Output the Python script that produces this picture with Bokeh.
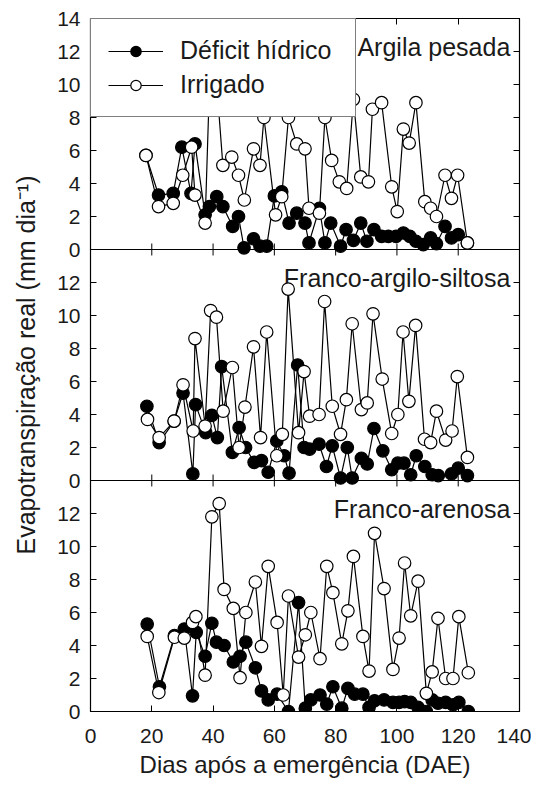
from bokeh.plotting import figure
from bokeh.models import Range1d, LinearAxis, FixedTicker, Span, Label, Legend, LegendItem
from bokeh.embed import file_html
from bokeh.resources import INLINE

FONT = "Liberation Sans"
INK = "#1a1a1a"

# ---------------- data ----------------
# Argila pesada
ap_def_x = [18.1, 22.2, 27.0, 29.8, 32.8, 34.1, 37.4, 38.8, 41.2, 43.2, 46.4, 48.3, 50.1, 53.2, 55.3,
            57.5, 60.0, 62.4, 64.8, 67.3, 70.0, 71.3, 74.7, 76.5, 78.4, 81.6, 83.4, 85.8, 88.2, 90.2,
            92.5, 95.0, 97.2, 99.7, 102.1, 104.2, 106.2, 108.6, 111.0, 112.9, 115.7, 117.8, 120.0, 123.0]
ap_def_y = [5.7, 3.3, 3.4, 6.2, 3.4, 6.4, 2.1, 2.6, 3.2, 2.6, 1.4, 2.0, 0.1, 0.65, 0.2,
            0.2, 3.25, 3.5, 1.6, 2.2, 1.6, 0.4, 2.5, 0.4, 1.6, 0.2, 1.2, 0.55, 1.6, 0.5,
            1.2, 0.8, 0.8, 0.8, 1.0, 0.8, 0.5, 0.3, 0.7, 0.35, 1.4, 0.7, 0.9, 0.4]
ap_irr_x = [18.1, 22.2, 27.0, 30.1, 33.0, 34.1, 37.4, 39.0, 41.0, 43.2, 46.1, 48.3, 50.2, 53.2, 55.3,
            56.6, 60.4, 62.4, 64.6, 67.3, 70.0, 71.3, 74.7, 76.5, 78.7, 81.2, 83.6, 85.8, 88.2, 90.7,
            92.0, 95.0, 98.3, 100.1, 102.1, 104.0, 106.2, 109.1, 111.0, 112.9, 115.7, 117.8, 119.8, 123.0]
ap_irr_y = [5.7, 2.6, 2.8, 4.5, 6.2, 3.3, 1.6, 11.0, 10.5, 5.1, 5.6, 4.5, 3.0, 6.1, 5.1,
            8.0, 2.1, 3.2, 8.0, 6.4, 6.1, 2.5, 2.2, 8.0, 5.4, 4.1, 3.7, 9.1, 4.4, 4.1,
            8.5, 8.9, 3.8, 2.3, 7.3, 6.45, 8.9, 2.9, 2.5, 2.0, 4.5, 3.1, 4.5, 0.4]

# Franco-argilo-siltosa
fas_def_x = [18.4, 22.4, 27.3, 30.2, 33.4, 34.3, 37.6, 39.6, 41.4, 42.8, 46.3, 48.5, 50.6, 53.4, 55.8,
             58.0, 60.8, 63.2, 64.8, 67.6, 69.7, 71.5, 74.6, 77.0, 78.9, 81.6, 83.8, 85.4, 88.4, 90.3,
             92.5, 95.4, 98.3, 100.3, 102.3, 104.5, 106.3, 109.1, 111.5, 113.5, 117.8, 120.0, 123.0]
fas_def_y = [4.5, 2.3, 3.6, 5.3, 0.4, 4.6, 2.9, 3.95, 2.6, 6.9, 1.7, 3.2, 2.0, 1.1, 1.2,
             0.5, 2.4, 1.5, 0.45, 7.0, 2.0, 1.9, 2.2, 0.85, 2.1, 0.15, 2.0, 0.15, 1.35, 1.0,
             3.15, 1.8, 0.65, 1.05, 1.05, 0.35, 1.5, 0.85, 0.35, 0.3, 0.4, 0.75, 0.3]
fas_irr_x = [18.6, 22.4, 27.3, 30.2, 33.5, 34.1, 37.4, 39.2, 41.1, 43.3, 46.3, 48.5, 50.4, 53.2, 55.5,
             57.5, 60.8, 62.6, 64.5, 67.9, 69.7, 71.5, 74.6, 76.4, 78.9, 81.6, 83.5, 85.4, 88.4, 90.3,
             92.2, 95.2, 98.3, 100.3, 102.0, 103.9, 106.1, 109.0, 111.0, 112.9, 115.9, 118.0, 119.7, 123.0]
fas_irr_y = [3.7, 2.6, 3.6, 5.8, 3.0, 8.6, 3.3, 10.3, 9.9, 4.2, 6.85, 2.0, 4.45, 8.1, 2.6,
             9.0, 1.5, 2.8, 11.6, 2.9, 6.6, 3.9, 4.0, 10.85, 4.5, 2.8, 4.9, 9.5, 4.3, 4.7,
             10.1, 6.15, 2.85, 4.0, 9.0, 4.8, 9.4, 2.5, 2.3, 4.2, 2.45, 3.0, 6.3, 1.4]

# Franco-arenosa
fa_def_x = [18.5, 22.5, 27.4, 30.6, 33.3, 34.5, 37.4, 39.6, 41.1, 43.6, 46.6, 48.8, 50.7, 53.8, 55.8,
            58.0, 60.9, 64.6, 67.9, 70.1, 71.9, 74.9, 77.1, 79.1, 82.0, 84.0, 86.2, 88.9, 90.9, 92.7,
            95.8, 98.7, 100.7, 102.5, 104.5, 106.9, 109.6, 111.5, 113.4, 115.9, 118.3, 120.2, 123.3]
fa_def_y = [5.3, 1.5, 4.6, 5.0, 0.95, 4.8, 3.35, 5.35, 4.2, 4.0, 3.0, 3.35, 4.2, 2.65, 1.25,
            0.7, 1.05, 0.0, 6.6, 0.2, 0.7, 1.0, 0.45, 1.5, 0.2, 1.4, 1.05, 1.05, 0.25, 0.65,
            0.7, 0.55, 0.55, 0.6, 0.55, 0.25, 0.0, 0.7, 0.5, 0.55, 0.4, 0.55, 0.0]
fa_irr_x = [18.5, 22.3, 27.4, 30.6, 33.3, 34.4, 37.4, 39.6, 42.0, 43.6, 46.6, 48.8, 50.7, 53.8, 55.8,
            58.0, 60.9, 62.9, 64.6, 67.9, 70.1, 71.9, 74.9, 77.1, 79.1, 82.0, 84.0, 85.8, 88.9, 90.9,
            92.7, 95.8, 98.7, 100.7, 102.5, 104.5, 106.9, 109.6, 111.5, 113.4, 115.9, 118.3, 120.2, 123.3]
fa_irr_y = [4.55, 1.15, 4.5, 4.45, 5.4, 5.75, 2.2, 11.8, 12.6, 7.4, 6.25, 2.05, 6.0, 7.85, 3.95,
            8.8, 5.4, 1.0, 7.0, 3.3, 4.65, 6.0, 3.2, 8.8, 7.2, 4.1, 6.1, 9.4, 4.55, 2.45,
            10.8, 7.45, 2.55, 4.45, 9.0, 5.8, 7.9, 1.1, 2.4, 5.65, 2.0, 2.0, 5.75, 2.35]

panel_titles = ["Argila pesada", "Franco-argilo-siltosa", "Franco-arenosa"]
series_names = ["Déficit hídrico", "Irrigado"]
x_ticks = [0, 20, 40, 60, 80, 100, 120, 140]
x_tick_labels = ["0", "20", "40", "60", "80", "100", "120", "140"]
y_ticks_top = [0, 2, 4, 6, 8, 10, 12, 14]
y_ticks_lower = [0, 2, 4, 6, 8, 10, 12]
x_title = "Dias após a emergência (DAE)"
y_title = "Evapotranspiração real (mm dia⁻¹)"

# ---------------- layout ----------------
SPAN = 14          # each panel: 0..14
NP = 3
FRAME_W, FRAME_H = 429, 694
BL, BR, BT, BB = 90, 12, 18, 68
TICK = 6

p = figure(width=BL + FRAME_W + BR, height=BT + FRAME_H + BB,
           x_range=Range1d(0, 140), y_range=Range1d(0, SPAN * NP),
           output_backend="svg", toolbar_location=None,
           x_axis_location=None, y_axis_location=None,
           min_border_left=BL, min_border_right=BR, min_border_top=BT, min_border_bottom=BB)
p.xgrid.grid_line_color = None
p.ygrid.grid_line_color = None
p.outline_line_color = "black"
p.outline_line_width = 1.2
p.background_fill_color = "white"
p.border_fill_color = "white"

# panel ranges: top, middle use extra ranges; bottom uses default
p.extra_y_ranges = {
    "top": Range1d(-2 * SPAN, SPAN),
    "mid": Range1d(-SPAN, 2 * SPAN),
}
range_names = ["top", "mid", "default"]

# stacked y ticks on the default range
offsets = [2 * SPAN, SPAN, 0]
tick_sets = [y_ticks_top, y_ticks_lower, y_ticks_lower]
stack_ticks, stack_labels = [], {}
for off, ts in zip(offsets, tick_sets):
    for t in ts:
        pos = off + t
        if pos not in stack_labels:
            stack_ticks.append(pos)
        stack_labels[pos] = str(t)


def style_axis(ax):
    ax.major_tick_in = TICK
    ax.major_tick_out = 0
    ax.minor_tick_line_color = None
    ax.axis_line_color = "black"
    ax.major_tick_line_color = "black"
    ax.major_label_text_font = FONT
    ax.major_label_text_color = INK
    ax.axis_label_text_font = FONT
    ax.axis_label_text_color = INK
    ax.axis_label_text_font_style = "normal"


def blank_axis(ax):
    style_axis(ax)
    ax.major_label_text_font_size = "0px"
    ax.major_label_standoff = 0


yl = LinearAxis(ticker=FixedTicker(ticks=sorted(stack_ticks)),
                major_label_overrides={k: v for k, v in stack_labels.items()})
style_axis(yl)
yl.major_label_text_font_size = "21px"
yl.major_label_standoff = 10
yl.axis_label = y_title
yl.axis_label_text_font_size = "25px"
yl.axis_label_standoff = 14
p.add_layout(yl, "left")

yr = LinearAxis(ticker=FixedTicker(ticks=sorted(stack_ticks)),
                major_label_overrides={k: "" for k in stack_labels})
blank_axis(yr)
p.add_layout(yr, "right")

xb = LinearAxis(ticker=FixedTicker(ticks=x_ticks),
                major_label_overrides={t: l for t, l in zip(x_ticks, x_tick_labels)})
style_axis(xb)
xb.major_label_text_font_size = "21px"
xb.major_label_standoff = 17
xb.axis_label = x_title
xb.axis_label_text_font_size = "24px"
xb.axis_label_standoff = 5
p.add_layout(xb, "below")

xt = LinearAxis(ticker=FixedTicker(ticks=x_ticks),
                major_label_overrides={t: "" for t in x_ticks})
blank_axis(xt)
p.add_layout(xt, "above")

# panel separators with inward ticks on both sides
px_per_unit = FRAME_H / (SPAN * NP)
d = TICK / px_per_unit
sx, sy0, sy1 = [], [], []
for k in range(1, NP):
    p.add_layout(Span(location=k * SPAN, dimension="width", line_color="black", line_width=1.2))
    for t in x_ticks[1:-1]:
        sx.append(t)
        sy0.append(k * SPAN - d)
        sy1.append(k * SPAN + d)
p.segment(x0=sx, y0=sy0, x1=sx, y1=sy1, line_color="black", line_width=1)

# data
panels = [
    (ap_def_x, ap_def_y, ap_irr_x, ap_irr_y),
    (fas_def_x, fas_def_y, fas_irr_x, fas_irr_y),
    (fa_def_x, fa_def_y, fa_irr_x, fa_irr_y),
]
LW = 1.2
MS = 12.5
legend_renderers = None
for (dx, dy, ix, iy), rn, title in zip(panels, range_names, panel_titles):
    p.add_layout(Label(x=137.0, y=12.3, y_range_name=rn, text=title,
                       text_align="right", text_baseline="middle",
                       text_font=FONT, text_font_size="25px", text_color=INK,
                       level="underlay"))
    l_d = p.line(dx, dy, y_range_name=rn, line_color="black", line_width=LW)
    s_d = p.scatter(dx, dy, y_range_name=rn, marker="circle", size=MS,
                    fill_color="black", line_color="black", line_width=LW)
    l_i = p.line(ix, iy, y_range_name=rn, line_color="black", line_width=LW)
    s_i = p.scatter(ix, iy, y_range_name=rn, marker="circle", size=MS,
                    fill_color="white", line_color="black", line_width=LW)
    if legend_renderers is None:
        legend_renderers = ([l_d, s_d], [l_i, s_i])

legend = Legend(items=[LegendItem(label=series_names[0], renderers=legend_renderers[0]),
                       LegendItem(label=series_names[1], renderers=legend_renderers[1])],
                location="top_left", margin=0, padding=17, spacing=5,
                glyph_width=55, glyph_height=26, label_standoff=17, label_width=158,
                label_text_font=FONT, label_text_font_size="25px", label_text_color=INK,
                border_line_color="black", border_line_width=1.2,
                background_fill_color="white", background_fill_alpha=1.0)
p.add_layout(legend)

open("out.html", "w").write(file_html(p, INLINE))
